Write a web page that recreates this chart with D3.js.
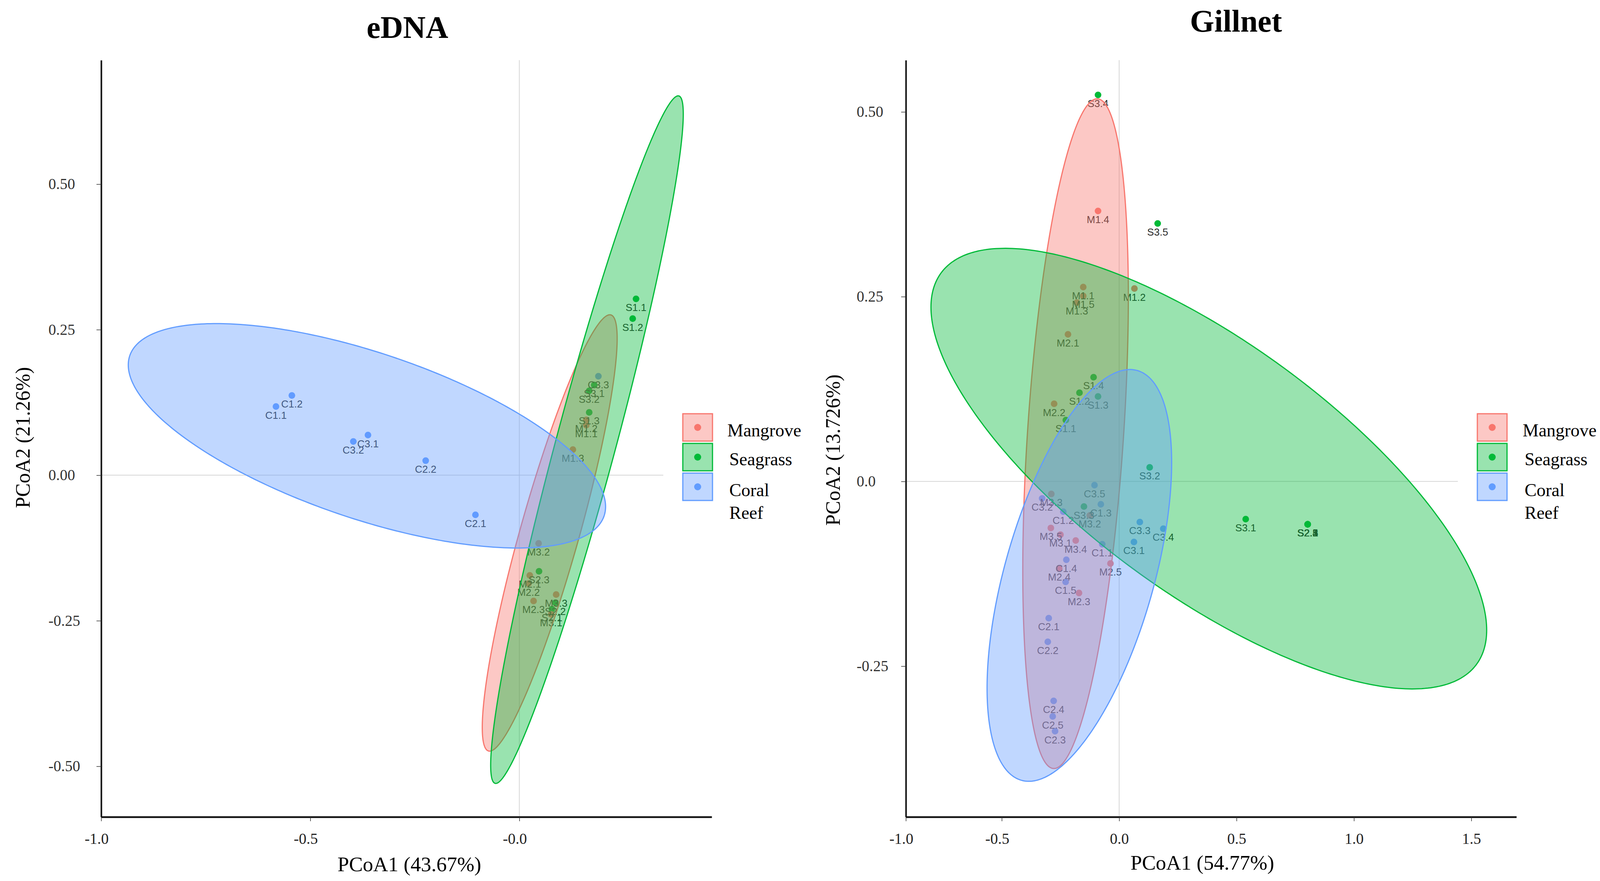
<!DOCTYPE html>
<html><head><meta charset="utf-8">
<script src="https://cdn.jsdelivr.net/npm/d3@7"></script>
<style>body{margin:0;background:#fff}svg{display:block}</style>
</head><body>
<svg id="chart" width="4110" height="2255"></svg>
<script>
// ---------- DATA ----------
const groups = ["Mangrove", "Seagrass", "Coral Reef"];
const groupPrefix = ["M", "S", "C"];
const groupColors = ["#f8766d", "#00ba38", "#619cff"];

// eDNA PCoA
const ednaLabels = ["C1.1","C1.2","C2.1","C2.2","C3.1","C3.2","C3.3",
  "S1.1","S1.2","S1.3","S2.1","S2.2","S2.3","S3.1","S3.2",
  "M1.1","M1.2","M1.3","M2.1","M2.2","M2.3","M3.1","M3.2","M3.3"];
const ednaX = [-0.582,-0.544,-0.105,-0.224,-0.362,-0.397,0.189,
  0.279,0.271,0.167,0.078,0.086,0.047,0.179,0.167,
  0.160,0.160,0.128,0.025,0.022,0.034,0.076,0.046,0.088];
const ednaY = [0.118,0.137,-0.068,0.025,0.069,0.058,0.170,
  0.303,0.269,0.108,-0.230,-0.219,-0.165,0.155,0.145,
  0.086,0.095,0.044,-0.172,-0.186,-0.216,-0.239,-0.117,-0.205];
// ellipses (Mangrove, Seagrass, Coral Reef): centre, right-most point, half vertical chord through centre
const ednaEllCenter = [[0.0726,-0.0992],[0.1617,0.0611],[-0.3645,0.0677]];
const ednaEllRight  = [[0.2339,0.2348],[0.392,0.6203],[0.2062,-0.054]];
const ednaEllHalfH  = [0.1701,0.190,0.1495];
const ednaXDomain = [-1.0, 0.46];
const ednaYDomain = [-0.587, 0.713];
const ednaXTicks = [-1.0, -0.5, 0.0];
const ednaXTickLabels = ["-1.0", "-0.5", "-0.0"];
const ednaYTicks = [0.5, 0.25, 0.0, -0.25, -0.5];
const ednaYTickLabels = ["0.50", "0.25", "0.00", "-0.25", "-0.50"];

// Gillnet PCoA
const gillLabels = ["M1.1","M1.2","M1.3","M1.4","M1.5","M2.1","M2.2","M2.3","M2.4","M2.5",
  "M3.1","M3.2","M3.3","M3.4","M3.5",
  "S1.1","S1.2","S1.3","S1.4","S2.1","S2.2","S2.3","S2.4","S2.5",
  "S3.1","S3.2","S3.3","S3.4","S3.5",
  "C1.1","C1.2","C1.3","C1.4","C1.5","C2.1","C2.2","C2.3","C2.4","C2.5",
  "C3.1","C3.2","C3.3","C3.4","C3.5"];
const gillX = [-0.153,0.065,-0.180,-0.090,-0.153,-0.218,-0.277,-0.171,-0.255,-0.037,
  -0.250,-0.125,-0.289,-0.185,-0.291,
  -0.227,-0.169,-0.090,-0.109,0.803,0.803,0.803,0.803,0.803,
  0.539,0.130,-0.150,-0.090,0.164,
  -0.072,-0.238,-0.078,-0.225,-0.228,-0.300,-0.304,-0.273,-0.279,-0.283,
  0.063,-0.328,0.088,0.188,-0.105];
const gillY = [0.263,0.261,0.242,0.366,0.251,0.199,0.105,-0.151,-0.118,-0.111,
  -0.072,-0.046,-0.017,-0.080,-0.063,
  0.083,0.120,0.115,0.141,-0.058,-0.058,-0.058,-0.058,-0.058,
  -0.051,0.019,-0.034,0.523,0.349,
  -0.085,-0.041,-0.031,-0.106,-0.136,-0.185,-0.217,-0.338,-0.297,-0.318,
  -0.082,-0.023,-0.055,-0.064,-0.005];
const gillEllCenter = [[-0.1857,0.0646],[0.3819,0.0173],[-0.1695,-0.1272]];
const gillEllRight  = [[0.0391,0.2501],[1.5654,-0.2012],[0.2236,0.0254]];
const gillEllHalfH  = [0.4134,0.2028,0.2331];
const gillXDomain = [-0.9085, 1.692];
const gillYDomain = [-0.454, 0.570];
const gillXTicks = [-0.9085, -0.5, 0.0, 0.5, 1.0, 1.5];
const gillXTickLabels = ["-1.0", "-0.5", "0.0", "0.5", "1.0", "1.5"];
const gillYTicks = [0.5, 0.25, 0.0, -0.25];
const gillYTickLabels = ["0.50", "0.25", "0.0", "-0.25"];

// ---------- LAYOUT ----------
const svg = d3.select("#chart");
svg.append("rect").attr("width", 4110).attr("height", 2255).attr("fill", "#fff");
const serif = "'Liberation Serif','Times New Roman',serif";
const sans = "'Liberation Sans',Arial,sans-serif";

const panels = [
  {title: "eDNA", titleX: 1043, titleY: 97,
   labels: ednaLabels, xs: ednaX, ys: ednaY,
   ellC: ednaEllCenter, ellR: ednaEllRight, ellH: ednaEllHalfH,
   xDomain: ednaXDomain, yDomain: ednaYDomain,
   xRange: [259, 1822], yRange: [2091, 154],
   xTicks: ednaXTicks, xTickLabels: ednaXTickLabels,
   yTicks: ednaYTicks, yTickLabels: ednaYTickLabels, yTickLeft: 124,
   xTitle: "PCoA1 (43.67%)", xTitleX: 1048, xTitleY: 2230,
   yTitle: "PCoA2 (21.26%)", yTitleX: 76, yTitleY: 1120,
   legX: 1748, legTextX: 1862},
  {title: "Gillnet", titleX: 3164, titleY: 81,
   labels: gillLabels, xs: gillX, ys: gillY,
   ellC: gillEllCenter, ellR: gillEllRight, ellH: gillEllHalfH,
   xDomain: gillXDomain, yDomain: gillYDomain,
   xRange: [2319, 3882], yRange: [2091, 154],
   xTicks: gillXTicks, xTickLabels: gillXTickLabels,
   yTicks: gillYTicks, yTickLabels: gillYTickLabels, yTickLeft: 2193,
   xTitle: "PCoA1 (54.77%)", xTitleX: 3078, xTitleY: 2226,
   yTitle: "PCoA2 (13.726%)", yTitleX: 2150, yTitleY: 1152,
   legX: 3782, legTextX: 3898}
];

panels.forEach(p => {
  const x = d3.scaleLinear().domain(p.xDomain).range(p.xRange);
  const y = d3.scaleLinear().domain(p.yDomain).range(p.yRange);
  const g = svg.append("g");

  // zero gridlines
  g.append("line").attr("x1", x(0)).attr("x2", x(0)).attr("y1", p.yRange[1]).attr("y2", p.yRange[0])
    .attr("stroke", "#d6d6d6").attr("stroke-width", 2);
  g.append("line").attr("x1", p.xRange[0]).attr("x2", p.legX - 50).attr("y1", y(0)).attr("y2", y(0))
    .attr("stroke", "#d6d6d6").attr("stroke-width", 2);

  const pts = p.labels.map((lab, i) => ({lab, gi: groupPrefix.indexOf(lab[0]), x: p.xs[i], y: p.ys[i]}));

  // points
  g.append("g").selectAll("circle").data(pts).join("circle")
    .attr("cx", d => x(d.x)).attr("cy", d => y(d.y)).attr("r", 8.5)
    .attr("fill", d => groupColors[d.gi]);
  // labels
  g.append("g").selectAll("text").data(pts).join("text")
    .attr("x", d => x(d.x)).attr("y", d => y(d.y) + 31)
    .attr("text-anchor", "middle").attr("font-family", sans).attr("font-size", 26)
    .attr("fill", "#2a2a2a").text(d => d.lab);

  // ellipses (Mangrove, Seagrass, Coral Reef order => coral on top)
  const line = d3.line().curve(d3.curveLinearClosed);
  groups.forEach((grp, k) => {
    const c = p.ellC[k], r = p.ellR[k], h = p.ellH[k];
    const ux = r[0] - c[0], uy = r[1] - c[1];
    const ring = d3.range(0, 360, 1).map(deg => {
      const t = deg * Math.PI / 180;
      return [x(c[0] + ux * Math.cos(t)), y(c[1] + uy * Math.cos(t) + h * Math.sin(t))];
    });
    g.append("path").attr("d", line(ring))
      .attr("fill", groupColors[k]).attr("fill-opacity", 0.4)
      .attr("stroke", groupColors[k]).attr("stroke-width", 3);
  });

  // axes
  const xAxis = d3.axisBottom(x).tickValues(p.xTicks).tickFormat((d, i) => p.xTickLabels[i])
    .tickSize(11).tickSizeOuter(0);
  const gx = g.append("g").attr("transform", `translate(0,${p.yRange[0]})`).call(xAxis);
  gx.select(".domain").attr("stroke", "#111").attr("stroke-width", 4.5);
  gx.selectAll(".tick line").attr("stroke", "#333").attr("stroke-width", 1.5);
  gx.selectAll(".tick text").attr("font-family", serif).attr("font-size", 39).attr("fill", "#222")
    .attr("y", 69).attr("dy", 0)
    .attr("dx", (d, i) => p.xTickLabels[i].startsWith("-") ? -12 : 0);

  const yAxis = d3.axisLeft(y).tickValues(p.yTicks).tickFormat((d, i) => p.yTickLabels[i])
    .tickSize(12).tickSizeOuter(0);
  const gy = g.append("g").attr("transform", `translate(${p.xRange[0]},0)`).call(yAxis);
  gy.select(".domain").attr("stroke", "#111").attr("stroke-width", 4);
  gy.selectAll(".tick line").attr("stroke", "#333").attr("stroke-width", 1.5);
  gy.selectAll(".tick text").attr("font-family", serif).attr("font-size", 39).attr("fill", "#333")
    .attr("text-anchor", "start").attr("x", p.yTickLeft - p.xRange[0]);

  // titles
  svg.append("text").attr("x", p.titleX).attr("y", p.titleY).attr("text-anchor", "middle")
    .attr("font-family", serif).attr("font-weight", "bold").attr("font-size", 80).attr("fill", "#000")
    .text(p.title);
  svg.append("text").attr("x", p.xTitleX).attr("y", p.xTitleY).attr("text-anchor", "middle")
    .attr("font-family", serif).attr("font-size", 53).attr("fill", "#000").text(p.xTitle);
  svg.append("text").attr("transform", `translate(${p.yTitleX},${p.yTitleY}) rotate(-90)`)
    .attr("text-anchor", "middle").attr("font-family", serif).attr("font-size", 52).attr("fill", "#000")
    .text(p.yTitle);

  // legend
  const legTop = [1059, 1135, 1211];
  const legText = [[["Mangrove", 1117]], [["Seagrass", 1191]], [["Coral", 1270], ["Reef", 1328]]];
  groups.forEach((grp, k) => {
    svg.append("rect").attr("x", p.legX).attr("y", legTop[k]).attr("width", 76).attr("height", 70)
      .attr("fill", groupColors[k]).attr("fill-opacity", 0.4)
      .attr("stroke", groupColors[k]).attr("stroke-width", 3);
    svg.append("circle").attr("cx", p.legX + 38).attr("cy", legTop[k] + 35).attr("r", 9)
      .attr("fill", groupColors[k]);
    legText[k].forEach(([t, by], j) => {
      svg.append("text").attr("x", p.legTextX + (k === 0 ? 0 : 5)).attr("y", by)
        .attr("font-family", serif).attr("font-size", 46).attr("fill", "#000").text(t);
    });
  });
});
</script>
</body></html>
